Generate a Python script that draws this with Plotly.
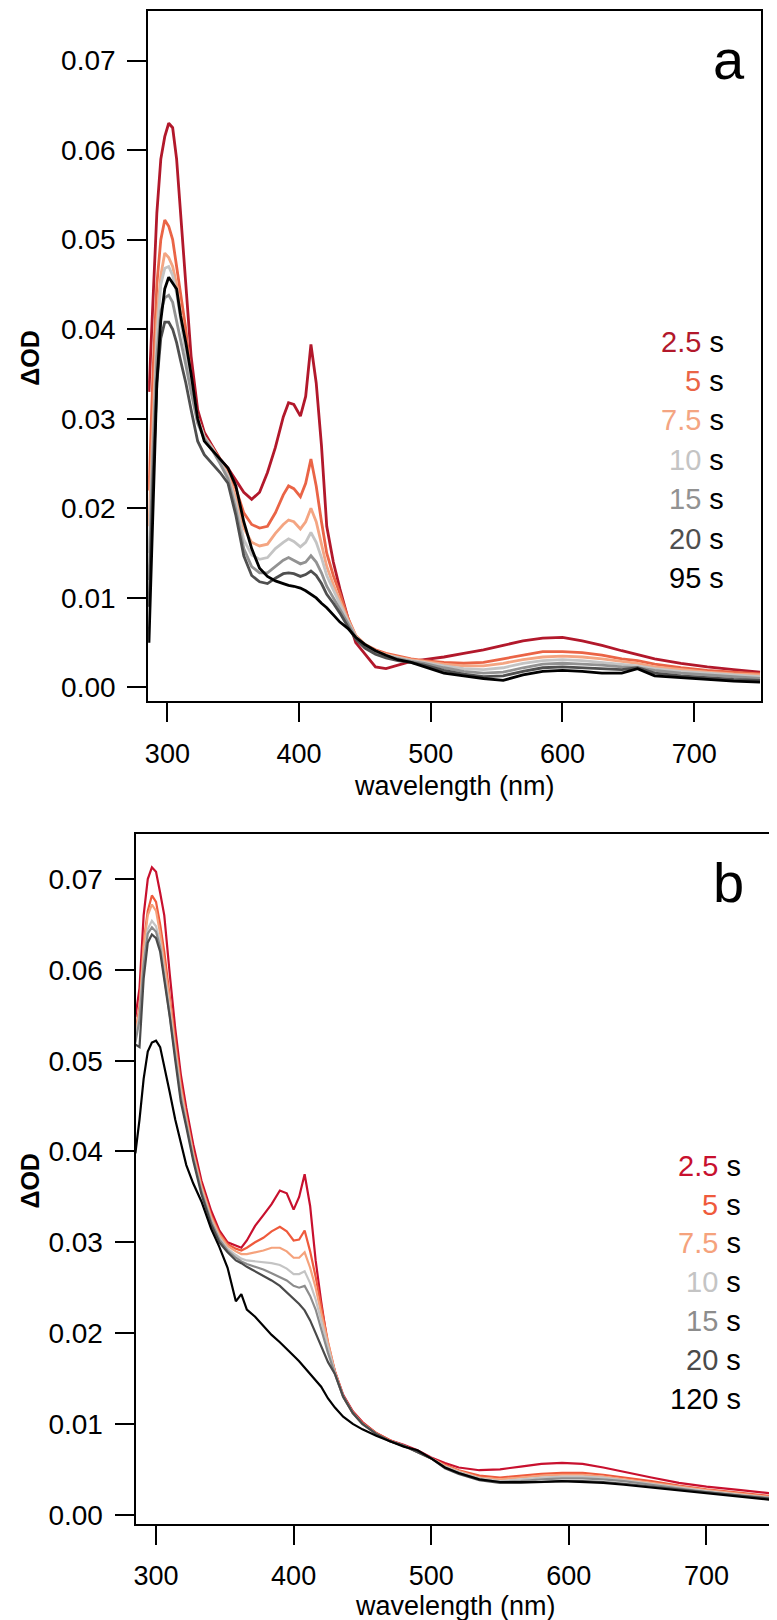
import plotly.graph_objects as go

W, H = 777, 1620

# ---- panel a: wavelength grid (nm) and dOD for each delay ----
wl_a = [286, 289, 292, 295, 298, 301, 304, 307, 310, 314, 318, 323, 328, 334, 340, 346, 352, 358,
        364, 370, 376, 382, 388, 392, 396, 401, 405, 409, 413, 417, 421, 426, 431, 437, 443, 450,
        458, 466, 475, 485, 495, 510, 525, 540, 555, 570, 585, 600, 615, 630, 645, 657, 670, 690,
        710, 730, 750]
a_2_5 = [0.033, 0.044, 0.053, 0.059, 0.0615, 0.063, 0.0625, 0.059, 0.053, 0.045, 0.037, 0.031,
         0.0285, 0.027, 0.0255, 0.0245, 0.0232, 0.0218, 0.021, 0.0218, 0.024, 0.0268, 0.0302,
         0.0318, 0.0316, 0.0303, 0.0325, 0.0383, 0.034, 0.027, 0.018, 0.014, 0.011, 0.0078,
         0.005, 0.0037, 0.0023, 0.0021, 0.0025, 0.0029, 0.0031, 0.0034, 0.0038, 0.0042, 0.0047,
         0.0052, 0.0055, 0.0056, 0.0052, 0.0047, 0.0041, 0.0037, 0.0032, 0.0027, 0.0023, 0.002,
         0.0017]
a_5 = [0.022, 0.035, 0.045, 0.05, 0.0522, 0.0515, 0.05, 0.047, 0.044, 0.04, 0.0345, 0.03, 0.028,
       0.0268, 0.0255, 0.0242, 0.0222, 0.0195, 0.0182, 0.0178, 0.018, 0.0195, 0.0215, 0.0225,
       0.0222, 0.0213, 0.0228, 0.0255, 0.0225, 0.0185, 0.015, 0.0125, 0.0105, 0.0078, 0.0058,
       0.0048, 0.0042, 0.0038, 0.0035, 0.0032, 0.003, 0.0028, 0.0027, 0.0028, 0.0032, 0.0036,
       0.004, 0.004, 0.0039, 0.0036, 0.0032, 0.003, 0.0026, 0.0022, 0.0019, 0.0017, 0.0015]
a_7_5 = [0.018, 0.03, 0.041, 0.046, 0.0485, 0.048, 0.047, 0.045, 0.042, 0.038, 0.034, 0.03, 0.028,
         0.0268, 0.0253, 0.0238, 0.0212, 0.0178, 0.0162, 0.0158, 0.016, 0.0172, 0.0182, 0.0187,
         0.0185, 0.0177, 0.0185, 0.02, 0.0185, 0.016, 0.0135, 0.0115, 0.0098, 0.0076, 0.0058,
         0.0048, 0.0041, 0.0037, 0.0034, 0.0031, 0.0029, 0.0026, 0.0024, 0.0024, 0.0027, 0.0031,
         0.0034, 0.0035, 0.0034, 0.0032, 0.0029, 0.0027, 0.0023, 0.002, 0.0017, 0.0015, 0.0014]
a_10 = [0.015, 0.028, 0.039, 0.045, 0.0468, 0.047, 0.046, 0.044, 0.041, 0.037, 0.0335, 0.03, 0.028,
        0.0267, 0.0252, 0.0236, 0.0205, 0.0165, 0.0148, 0.0143, 0.0145, 0.0155, 0.0162, 0.0166,
        0.0163, 0.0157, 0.0162, 0.0173, 0.0162, 0.0145, 0.0125, 0.0108, 0.0093, 0.0074, 0.0057,
        0.0047, 0.004, 0.0036, 0.0033, 0.003, 0.0028, 0.0024, 0.0021, 0.002, 0.0022, 0.0027,
        0.003, 0.0031, 0.003, 0.0028, 0.0026, 0.0024, 0.0021, 0.0018, 0.0016, 0.0014, 0.0012]
a_15 = [0.012, 0.026, 0.037, 0.042, 0.0435, 0.0438, 0.043, 0.041, 0.039, 0.036, 0.033, 0.0295,
        0.0278, 0.0265, 0.025, 0.0233, 0.0198, 0.0155, 0.0135, 0.0128, 0.0128, 0.0135, 0.0142,
        0.0145, 0.0142, 0.0138, 0.014, 0.0147, 0.014, 0.0128, 0.0113, 0.01, 0.0088, 0.0071,
        0.0056, 0.0046, 0.0039, 0.0035, 0.0032, 0.0029, 0.0027, 0.0022, 0.0018, 0.0016, 0.0017,
        0.0022, 0.0026, 0.0027, 0.0026, 0.0025, 0.0023, 0.0022, 0.0019, 0.0016, 0.0014, 0.0012,
        0.001]
a_20 = [0.009, 0.023, 0.034, 0.039, 0.0408, 0.0408, 0.04, 0.0385, 0.0365, 0.034, 0.031, 0.0275,
        0.026, 0.025, 0.024, 0.0228, 0.0192, 0.0147, 0.0125, 0.0118, 0.0116, 0.0122, 0.0127,
        0.0128, 0.0127, 0.0124, 0.0126, 0.013, 0.0125, 0.0116, 0.0104, 0.0094, 0.0083, 0.0068,
        0.0054, 0.0044, 0.0037, 0.0033, 0.003, 0.0028, 0.0025, 0.0019, 0.0015, 0.0012, 0.0013,
        0.0018, 0.0022, 0.0023, 0.0022, 0.0021, 0.002, 0.0022, 0.0016, 0.0013, 0.0011, 0.0009,
        0.0008]
a_95 = [0.005, 0.02, 0.034, 0.041, 0.0445, 0.0458, 0.0452, 0.0445, 0.0415, 0.0385, 0.035, 0.03,
        0.0275, 0.0265, 0.0255, 0.0245, 0.0225, 0.0185, 0.0155, 0.0133, 0.0124, 0.0119, 0.0116,
        0.0114, 0.0113, 0.0111, 0.0108, 0.0104, 0.01, 0.0094, 0.0089, 0.0081, 0.0073, 0.0066,
        0.0056, 0.0048, 0.0041, 0.0036, 0.0031, 0.0028, 0.0023, 0.0016, 0.0013, 0.001, 0.0008,
        0.0014, 0.0018, 0.0019, 0.0018, 0.0016, 0.0016, 0.0021, 0.0013, 0.0011, 0.0009, 0.0007,
        0.0006]

# ---- panel b ----
wl_b = [285, 288, 291, 294, 297, 300, 303, 306, 310, 314, 318, 322, 327, 333, 340, 346, 352, 358,
        362, 366, 372, 378, 384, 390, 395, 400, 404, 408, 412, 416, 420, 425, 430, 436, 443, 450,
        460, 470, 480, 490, 500, 510, 520, 535, 550, 565, 580, 595, 610, 625, 640, 660, 680, 700,
        725, 750]
b_2_5 = [0.0548, 0.058, 0.066, 0.07, 0.0713, 0.0708, 0.0685, 0.066, 0.0595, 0.0535, 0.0485,
         0.0448, 0.0408, 0.0368, 0.0335, 0.0313, 0.03, 0.0296, 0.0294, 0.0302, 0.0318, 0.033,
         0.0342, 0.0357, 0.0354, 0.0336, 0.035, 0.0375, 0.034, 0.028, 0.0235, 0.0185, 0.0158,
         0.0132, 0.0114, 0.0102, 0.009, 0.0082, 0.0077, 0.0071, 0.0063, 0.0057, 0.0052, 0.0049,
         0.005, 0.0053, 0.0056, 0.0057, 0.0056, 0.0052, 0.0047, 0.0041, 0.0035, 0.0031, 0.0027,
         0.0023]
b_5 = [0.053, 0.056, 0.063, 0.0665, 0.0682, 0.0675, 0.065, 0.062, 0.057, 0.052, 0.0475, 0.044,
       0.04, 0.0363, 0.033, 0.031, 0.0298, 0.0293, 0.0291, 0.0294, 0.03, 0.0305, 0.0312, 0.0317,
       0.0312, 0.0302, 0.0303, 0.0313, 0.029, 0.0262, 0.023, 0.019, 0.0158, 0.0131, 0.0113,
       0.0101, 0.009, 0.0082, 0.0076, 0.007, 0.0062, 0.0055, 0.0049, 0.0043, 0.0041, 0.0043,
       0.0045, 0.0046, 0.0046, 0.0044, 0.0041, 0.0037, 0.0032, 0.0028, 0.0024, 0.002]
b_7_5 = [0.053, 0.0555, 0.0625, 0.066, 0.0672, 0.0665, 0.064, 0.061, 0.0565, 0.0515, 0.047,
         0.0437, 0.0398, 0.0361, 0.0328, 0.0308, 0.0296, 0.029, 0.0287, 0.0287, 0.0289, 0.0291,
         0.0294, 0.0294, 0.029, 0.0283, 0.0283, 0.0289, 0.0272, 0.025, 0.0222, 0.0188, 0.0157,
         0.013, 0.0112, 0.01, 0.0089, 0.0081, 0.0076, 0.0069, 0.0062, 0.0054, 0.0048, 0.0041,
         0.0039, 0.0041, 0.0043, 0.0044, 0.0044, 0.0042, 0.0039, 0.0035, 0.0031, 0.0027, 0.0023,
         0.0019]
b_10 = [0.0525, 0.055, 0.061, 0.0645, 0.0654, 0.0648, 0.063, 0.06, 0.0555, 0.051, 0.0465, 0.0433,
        0.0395, 0.0358, 0.0325, 0.0305, 0.0293, 0.0286, 0.0282, 0.028, 0.0279, 0.0278, 0.0277,
        0.0275, 0.0271, 0.0265, 0.0265, 0.0268, 0.0255, 0.0237, 0.0213, 0.0183, 0.0156, 0.013,
        0.0112, 0.01, 0.0089, 0.0081, 0.0076, 0.0069, 0.0062, 0.0053, 0.0047, 0.004, 0.0037,
        0.0039, 0.0041, 0.0042, 0.0042, 0.0041, 0.0038, 0.0034, 0.003, 0.0026, 0.0022, 0.0018]
b_15 = [0.052, 0.0545, 0.0605, 0.064, 0.0647, 0.0642, 0.0625, 0.0595, 0.055, 0.0505, 0.046, 0.043,
        0.0393, 0.0356, 0.0323, 0.0303, 0.0291, 0.0283, 0.0279, 0.0276, 0.0273, 0.027, 0.0266,
        0.0262, 0.0258, 0.0252, 0.025, 0.0252, 0.0241, 0.0226, 0.0205, 0.0178, 0.0155, 0.013,
        0.0112, 0.01, 0.0089, 0.0081, 0.0076, 0.0069, 0.0062, 0.0052, 0.0046, 0.0039, 0.0036,
        0.0037, 0.0039, 0.004, 0.004, 0.0039, 0.0037, 0.0033, 0.0029, 0.0025, 0.0021, 0.0018]
b_20 = [0.0518, 0.0515, 0.059, 0.063, 0.0639, 0.0635, 0.062, 0.059, 0.0548, 0.05, 0.0455, 0.0427,
        0.039, 0.0353, 0.032, 0.03, 0.0289, 0.028, 0.0277, 0.0273, 0.0268, 0.0263, 0.0258, 0.0252,
        0.0245, 0.0237, 0.0232, 0.0225, 0.0214, 0.02, 0.0185, 0.0168, 0.0155, 0.013, 0.0112,
        0.01, 0.0089, 0.0081, 0.0076, 0.0069, 0.0062, 0.0051, 0.0045, 0.0038, 0.0035, 0.0035,
        0.0036, 0.0037, 0.0037, 0.0036, 0.0034, 0.0031, 0.0028, 0.0025, 0.0021, 0.0017]
b_120 = [0.0398, 0.0435, 0.048, 0.051, 0.052, 0.0522, 0.0515, 0.0495, 0.0465, 0.0435, 0.041,
         0.0385, 0.0365, 0.0345, 0.0315, 0.0295, 0.0272, 0.0235, 0.0243, 0.0226, 0.0218, 0.0208,
         0.0198, 0.019, 0.0182, 0.0175, 0.0169, 0.0162, 0.0156, 0.0148, 0.0141, 0.0128, 0.0118,
         0.0108, 0.01, 0.0094, 0.0087, 0.0081, 0.0075, 0.0071, 0.0062, 0.0052, 0.0046, 0.0039,
         0.0036, 0.0036, 0.0036, 0.0037, 0.0036, 0.0035, 0.0033, 0.003, 0.0027, 0.0024, 0.002,
         0.0016]

labels_a = ['2.5', '5', '7.5', '10', '15', '20', '95']
labels_b = ['2.5', '5', '7.5', '10', '15', '20', '120']
colors_a = ['#b2182b', '#ea6446', '#f4a582', '#c4c4c4', '#929292', '#4f4f4f', '#000000']
colors_b = ['#c8102e', '#ef5a3c', '#f5a27c', '#c4c4c4', '#8c8c8c', '#4a4a4a', '#000000']
series_a = [a_2_5, a_5, a_7_5, a_10, a_15, a_20, a_95]
series_b = [b_2_5, b_5, b_7_5, b_10, b_15, b_20, b_120]
x_ticks = [300, 400, 500, 600, 700]
y_ticks = [0.0, 0.01, 0.02, 0.03, 0.04, 0.05, 0.06, 0.07]

FONT = 'Liberation Sans, Arial, sans-serif'


def px(x, y):
    # pixel position -> paper coordinates
    return x / W, 1 - y / H


fig = go.Figure()

for vals, c in zip(series_a, colors_a):
    fig.add_trace(go.Scatter(x=wl_a, y=vals, mode='lines', xaxis='x', yaxis='y',
                             line=dict(color=c, width=2.8), showlegend=False))
for vals, c in zip(series_b, colors_b):
    fig.add_trace(go.Scatter(x=wl_b, y=vals, mode='lines', xaxis='x2', yaxis='y2',
                             line=dict(color=c, width=2.2), showlegend=False))

x_common = dict(tickvals=x_ticks, ticks='outside', ticklen=19, tickwidth=2, tickcolor='black',
                showline=True, linewidth=2, linecolor='black', mirror=True,
                showgrid=False, zeroline=False, ticklabelstandoff=8,
                tickfont=dict(family=FONT, size=27, color='black'))
y_common = dict(tickvals=y_ticks, tickformat='.2f', ticks='outside', ticklen=19, tickwidth=2,
                tickcolor='black', showline=True, linewidth=2, linecolor='black', mirror=True,
                showgrid=False, zeroline=False, ticklabelstandoff=6,
                tickfont=dict(family=FONT, size=28, color='black'))

fig.update_layout(
    width=W, height=H,
    margin=dict(l=0, r=0, t=0, b=0),
    paper_bgcolor='white', plot_bgcolor='white',
    showlegend=False,
    xaxis=dict(x_common, domain=[137.7 / W, 752.7 / W], range=[285.4, 750.6], anchor='y'),
    yaxis=dict(y_common, domain=[1 - 696 / H, 1 - 3.3 / H], range=[-0.00156, 0.0755], anchor='x'),
    xaxis2=dict(x_common, domain=[125 / W, 768.6 / W], range=[285.1, 751], anchor='y2'),
    yaxis2=dict(y_common, domain=[1 - 1521.7 / H, 1 - 829.3 / H], range=[-0.00103, 0.07494],
                anchor='x2'),
)

ann = []
# delay-time legends, number coloured and unit in black
for i, (lab, c) in enumerate(zip(labels_a, colors_a)):
    x, y = px(718, 335 + i * 39.5)
    ann.append(dict(x=x, y=y, text=f'<span style="color:{c}">{lab}</span> s'))
for i, (lab, c) in enumerate(zip(labels_b, colors_b)):
    x, y = px(735, 1162 + i * 39)
    ann.append(dict(x=x, y=y, text=f'<span style="color:{c}">{lab}</span> s'))
for a in ann:
    a.update(xref='paper', yref='paper', xanchor='right', yanchor='middle', showarrow=False,
             font=dict(family=FONT, size=29, color='black'))

# panel letters
for letter, (xp, yp) in [('a', (739, 52)), ('b', (738, 878))]:
    x, y = px(xp, yp)
    ann.append(dict(x=x, y=y, text=letter, xref='paper', yref='paper', xanchor='right',
                    yanchor='middle', showarrow=False,
                    font=dict(family=FONT, size=56, color='black')))

# axis titles
for yc in (351, 1177):
    x, y = px(19, yc)
    ann.append(dict(x=x, y=y, text='<b>ΔOD</b>', textangle=-90, xref='paper', yref='paper',
                    xanchor='center', yanchor='middle', showarrow=False,
                    font=dict(family=FONT, size=25, color='black')))
for xc, yc in ((445, 781), (446, 1604)):
    x, y = px(xc, yc)
    ann.append(dict(x=x, y=y, text='wavelength (nm)', xref='paper', yref='paper',
                    xanchor='center', yanchor='middle', showarrow=False,
                    font=dict(family=FONT, size=27, color='black')))

fig.update_layout(annotations=ann)

fig.write_html('out.html')
